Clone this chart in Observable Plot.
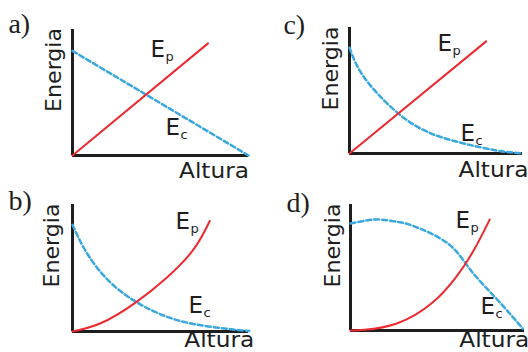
<!DOCTYPE html>
<html><head><meta charset="utf-8">
<script src="https://cdn.jsdelivr.net/npm/d3@7"></script>
<script src="https://cdn.jsdelivr.net/npm/@observablehq/plot@0.6"></script>
<style>
body{margin:0;background:#fff;}
#wrap{position:relative;width:528px;height:352px;overflow:hidden;background:#fff;}
.cell{position:absolute;width:264px;height:176px;}
</style></head><body><div id="wrap"></div>
<script>
// ---- data (Altura on x, Energia on y, arbitrary units 0..10) ----
const aEpX = [0, 7.7];
const aEpY = [0, 8.9];
const aEcX = [0, 10];
const aEcY = [8.3, 0];

const cEpX = [0, 7.9];
const cEpY = [0, 8.9];
const cEcX = [0, 0.87, 2.8, 4.7, 6.6, 8.5, 10];
const cEcY = [8.4, 6.0, 3.2, 1.6, 0.8, 0.24, 0];

const bEpX = [0, 1.6, 3.5, 5.4, 6.9, 7.8];
const bEpY = [0, 0.65, 2.2, 4.3, 6.5, 8.7];
const bEcX = [0, 0.85, 2.2, 3.9, 5.7, 7.7, 9.7, 10];
const bEcY = [8.4, 6.1, 3.8, 2.1, 1.0, 0.4, 0.08, 0.05];

const dEpX = [0, 0.8, 2.7, 4.7, 6.1, 7.1, 8.0];
const dEpY = [0, 0.05, 0.58, 2.2, 4.3, 6.4, 8.8];
const dEcX = [0, 1.0, 1.8, 2.8, 3.7, 5.6, 6.9, 8.4, 9.9];
const dEcY = [8.5, 8.75, 8.8, 8.6, 8.25, 6.9, 4.8, 2.5, 0.15];

// ---- text ----
const panelLetters = ["a)", "c)", "b)", "d)"];
const xTitle = "Altura";
const yTitle = "Energia";
const epText = ["E", "p"];
const ecText = ["E", "c"];

// label anchor positions in data units (order a, c, b, d)
const letterPos = [[-3.64, 9.76], [-3.82, 9.52], [-3.64, 9.6], [-3.68, 9.44]];
const epPos = [[4.43, 7.78], [5.09, 8.17], [5.85, 8.11], [6.03, 8.1]];
const ecPos = [[5.28, 1.59], [6.42, 1.03], [6.59, 1.42], [7.47, 1.27]];
const altPos = [[6.05, -1.75], [6.3, -1.9], [6.35, -1.22], [6.25, -1.28]];
const enePos = [[-0.68, 6.79], [-0.69, 6.75], [-0.74, 6.77], [-0.63, 6.75]];

const series = [
  [aEpX, aEpY, aEcX, aEcY],
  [cEpX, cEpY, cEcX, cEcY],
  [bEpX, bEpY, bEcX, bEcY],
  [dEpX, dEpY, dEcX, dEcY]
];

const layout = [
  {left: 0, top: 0, m: [29, 16, 21, 72]},
  {left: 264, top: 0, m: [27, 6, 23, 85]},
  {left: 0, top: 176, m: [28, 16, 21, 72]},
  {left: 264, top: 176, m: [28, 4, 22, 86]}
];

const RED = "#ec2a30";
const BLUE = "#3aa8de";
const INK = "#1e1e1e";
const SANS = "DejaVu Sans, Verdana, sans-serif";

const wrap = document.getElementById("wrap");

series.forEach((s, i) => {
  const [epX, epY, ecX, ecY] = s;
  const ep = epX.map((x, k) => ({x, y: epY[k]}));
  const ec = ecX.map((x, k) => ({x, y: ecY[k]}));
  const L = layout[i];
  const pt = (p, t) => [{x: p[0], y: p[1], t}];
  const chart = Plot.plot({
    width: 264, height: 176,
    marginTop: L.m[0], marginRight: L.m[1], marginBottom: L.m[2], marginLeft: L.m[3],
    x: {domain: [0, 10], axis: null},
    y: {domain: [0, 10], axis: null},
    style: {overflow: "visible", background: "transparent"},
    marks: [
      Plot.ruleY([0], {stroke: INK, strokeWidth: 3}),
      Plot.ruleX([0], {stroke: INK, strokeWidth: 3}),
      Plot.line(ec, {x: "x", y: "y", stroke: BLUE, strokeWidth: 2.5, strokeDasharray: "5,3", curve: "natural"}),
      Plot.line(ep, {x: "x", y: "y", stroke: RED, strokeWidth: 2, curve: "natural"}),
      Plot.text(pt(epPos[i], epText[0]), {x: "x", y: "y", text: "t", textAnchor: "start", lineAnchor: "bottom", fontSize: 23, fill: INK, fontFamily: SANS}),
      Plot.text(pt(epPos[i], epText[1]), {x: "x", y: "y", text: "t", textAnchor: "start", lineAnchor: "bottom", fontSize: 13, dx: 15, dy: 4, fill: INK, fontFamily: SANS}),
      Plot.text(pt(ecPos[i], ecText[0]), {x: "x", y: "y", text: "t", textAnchor: "start", lineAnchor: "bottom", fontSize: 23, fill: INK, fontFamily: SANS}),
      Plot.text(pt(ecPos[i], ecText[1]), {x: "x", y: "y", text: "t", textAnchor: "start", lineAnchor: "bottom", fontSize: 13, dx: 15, dy: 4, fill: INK, fontFamily: SANS}),
      Plot.text(pt(altPos[i], xTitle), {x: "x", y: "y", text: "t", textAnchor: "start", lineAnchor: "bottom", fontSize: 21, fill: INK, fontFamily: SANS}),
      Plot.text(pt(enePos[i], yTitle), {x: "x", y: "y", text: "t", rotate: -90, textAnchor: "middle", lineAnchor: "bottom", fontSize: 20.5, fill: INK, fontFamily: SANS}),
      Plot.text(pt(letterPos[i], panelLetters[i]), {x: "x", y: "y", text: "t", textAnchor: "start", lineAnchor: "bottom", fontSize: 28, fill: INK, fontFamily: "Liberation Serif, Times New Roman, serif"})
    ]
  });
  d3.select(chart).selectAll("text").each(function() {
    const t = this.textContent;
    if (t === xTitle) { this.setAttribute("textLength", 70); this.setAttribute("lengthAdjust", "spacingAndGlyphs"); }
    if (t === yTitle) { this.setAttribute("textLength", 84); this.setAttribute("lengthAdjust", "spacingAndGlyphs"); }
  });
  const cell = document.createElement("div");
  cell.className = "cell";
  cell.style.left = L.left + "px";
  cell.style.top = L.top + "px";
  cell.appendChild(chart);
  wrap.appendChild(cell);
});
</script>
</body></html>
